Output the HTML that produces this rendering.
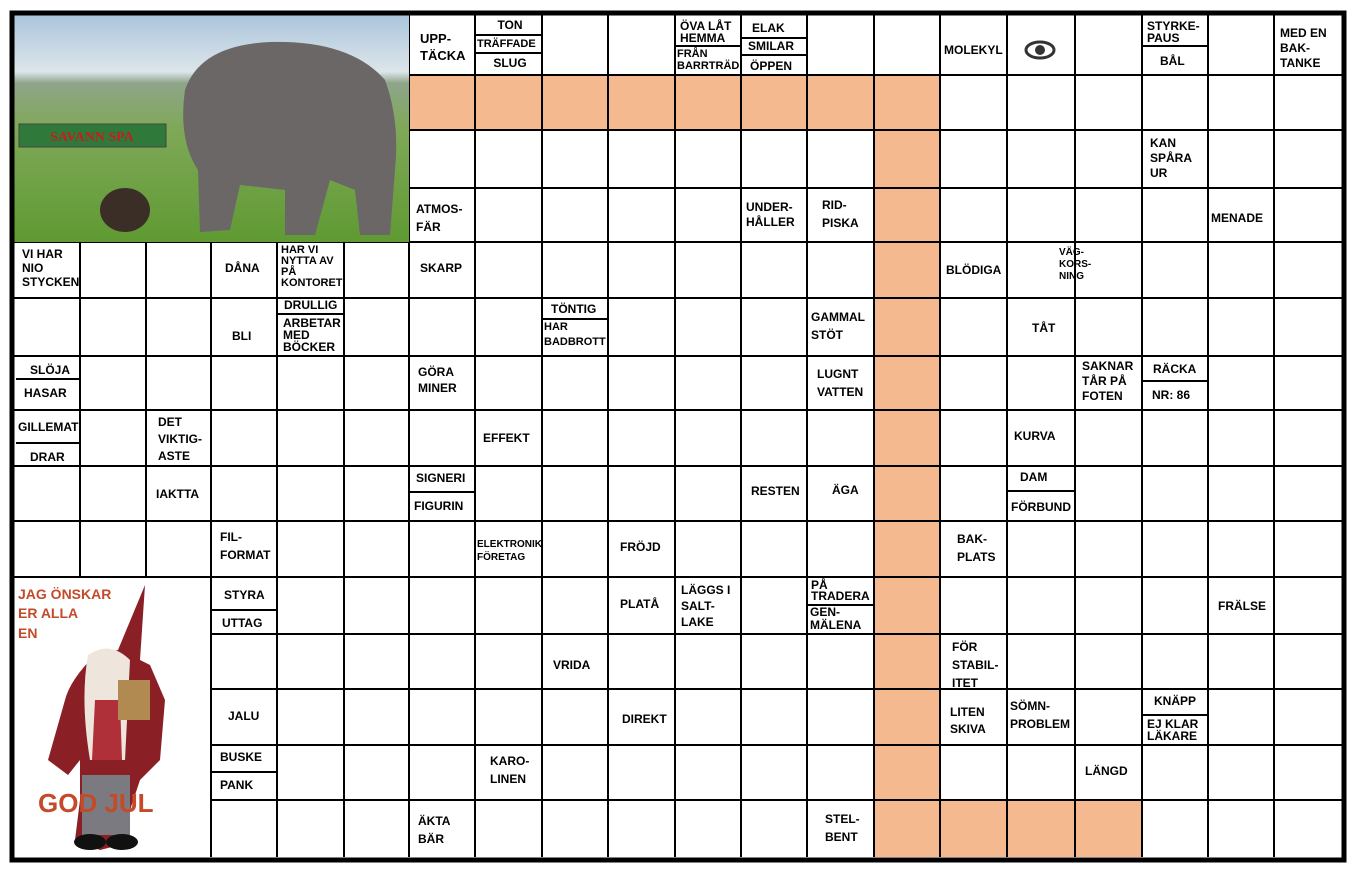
<!DOCTYPE html>
<html><head><meta charset="utf-8"><style>
body{margin:0;width:1366px;height:870px;background:#fff;position:relative;overflow:hidden;font-family:"Liberation Sans",sans-serif}
.c{position:absolute;font-size:12px;font-weight:bold;line-height:13px;color:#000;white-space:nowrap}
.s{position:absolute;height:2px;background:#000}
</style></head><body>
<svg width="1366" height="870" style="position:absolute;left:0;top:0">
<g fill="#f5b990">
<rect x="409" y="75" width="531" height="55"/>
<rect x="874" y="75" width="66" height="782"/>
<rect x="940" y="800" width="202" height="57"/>
</g>
<g stroke="#000" stroke-width="2">
<line x1="14" y1="75" x2="1342" y2="75"/><line x1="14" y1="130" x2="1342" y2="130"/><line x1="14" y1="188" x2="1342" y2="188"/><line x1="14" y1="242" x2="1342" y2="242"/><line x1="14" y1="298" x2="1342" y2="298"/><line x1="14" y1="356" x2="1342" y2="356"/><line x1="14" y1="410" x2="1342" y2="410"/><line x1="14" y1="466" x2="1342" y2="466"/><line x1="14" y1="521" x2="1342" y2="521"/><line x1="14" y1="577" x2="1342" y2="577"/><line x1="14" y1="634" x2="1342" y2="634"/><line x1="14" y1="689" x2="1342" y2="689"/><line x1="14" y1="745" x2="1342" y2="745"/><line x1="14" y1="800" x2="1342" y2="800"/>
<line x1="80" y1="15" x2="80" y2="857"/><line x1="146" y1="15" x2="146" y2="857"/><line x1="211" y1="15" x2="211" y2="857"/><line x1="277" y1="15" x2="277" y2="857"/><line x1="344" y1="15" x2="344" y2="857"/><line x1="409" y1="15" x2="409" y2="857"/><line x1="475" y1="15" x2="475" y2="857"/><line x1="542" y1="15" x2="542" y2="857"/><line x1="608" y1="15" x2="608" y2="857"/><line x1="675" y1="15" x2="675" y2="857"/><line x1="741" y1="15" x2="741" y2="857"/><line x1="807" y1="15" x2="807" y2="857"/><line x1="874" y1="15" x2="874" y2="857"/><line x1="940" y1="15" x2="940" y2="857"/><line x1="1007" y1="15" x2="1007" y2="857"/><line x1="1075" y1="15" x2="1075" y2="857"/><line x1="1142" y1="15" x2="1142" y2="857"/><line x1="1208" y1="15" x2="1208" y2="857"/><line x1="1274" y1="15" x2="1274" y2="857"/>
</g>
<defs><linearGradient id="g1" x1="0" y1="0" x2="0" y2="1"><stop offset="0" stop-color="#aac4dc"/><stop offset="0.25" stop-color="#dde6ea"/><stop offset="0.3" stop-color="#8fa58a"/><stop offset="0.5" stop-color="#7fa858"/><stop offset="1" stop-color="#5f9a32"/></linearGradient></defs>
<rect x="14" y="15" width="395" height="227" fill="url(#g1)"/>
<path d="M185 90 Q200 45 270 42 Q350 40 385 80 Q400 120 395 170 L390 235 L360 235 L355 190 L330 180 L315 235 L285 235 L285 190 L240 185 L230 230 L200 232 L198 170 Q178 140 185 90Z" fill="#6b6766"/>
<ellipse cx="125" cy="210" rx="25" ry="22" fill="#3a2e26"/>
<rect x="19" y="124" width="147" height="23" fill="#2f7a3a" stroke="#444"/>
<text x="92" y="141" font-family="Liberation Serif" font-weight="bold" font-size="14" fill="#c02020" text-anchor="middle">SAVANN SPA</text>
<rect x="14" y="578" width="196" height="279" fill="#fff"/>
<path d="M145 585 L118 650 L95 655 Q70 680 65 700 L48 760 L68 775 L80 760 L80 800 L75 840 L100 850 L120 845 L130 810 L140 780 L160 760 L165 700 L150 665 L140 660Z" fill="#8a1f26"/>
<path d="M88 655 Q110 640 130 660 L125 760 L90 760 Q80 700 88 655Z" fill="#eee6dc"/>
<path d="M95 700 L120 700 L122 760 L92 760Z" fill="#b0303a"/>
<rect x="118" y="680" width="32" height="40" fill="#b08a50"/>
<rect x="82" y="775" width="48" height="60" fill="#7a7a80"/>
<ellipse cx="90" cy="842" rx="16" ry="8" fill="#111"/><ellipse cx="122" cy="842" rx="16" ry="8" fill="#111"/>
<text x="18" y="599" font-size="14" font-weight="bold" fill="#c44a2a">JAG ÖNSKAR</text>
<text x="18" y="618" font-size="14" font-weight="bold" fill="#c44a2a">ER ALLA</text>
<text x="18" y="638" font-size="14" font-weight="bold" fill="#c44a2a">EN</text>
<text x="38" y="812" font-size="26" font-weight="bold" fill="#c44a2a">GOD JUL</text>
<ellipse cx="1040" cy="50" rx="14" ry="8" fill="none" stroke="#333" stroke-width="3"/><circle cx="1040" cy="50" r="5" fill="#333"/>
<rect x="12" y="13" width="1332" height="847" fill="none" stroke="#000" stroke-width="5"/>
</svg>
<div class="c" style="left:420px;top:30px;font-size:13px;line-height:17px">UPP-<br>TÄCKA</div>
<div class="c" style="left:478px;top:19px;width:64px;text-align:center">TON</div><div class="s" style="left:475px;top:34px;width:67px"></div>
<div class="c" style="left:477px;top:38px;font-size:11px">TRÄFFADE</div><div class="s" style="left:475px;top:52px;width:67px"></div>
<div class="c" style="left:478px;top:57px;width:64px;text-align:center">SLUG</div>
<div class="c" style="left:680px;top:20px;line-height:12px">ÖVA LÅT<br>HEMMA</div><div class="s" style="left:675px;top:45px;width:66px"></div>
<div class="c" style="left:677px;top:48px;line-height:12px;font-size:11px">FRÅN<br>BARRTRÄD</div>
<div class="c" style="left:752px;top:22px">ELAK</div><div class="s" style="left:741px;top:37px;width:66px"></div>
<div class="c" style="left:748px;top:40px">SMILAR</div><div class="s" style="left:741px;top:54px;width:66px"></div>
<div class="c" style="left:750px;top:60px">ÖPPEN</div>
<div class="c" style="left:944px;top:44px">MOLEKYL</div>
<div class="c" style="left:1147px;top:20px;line-height:12px">STYRKE-<br>PAUS</div><div class="s" style="left:1142px;top:45px;width:66px"></div>
<div class="c" style="left:1160px;top:55px">BÅL</div>
<div class="c" style="left:1280px;top:26px;line-height:15px">MED EN<br>BAK-<br>TANKE</div>
<div class="c" style="left:1150px;top:136px;line-height:15px">KAN<br>SPÅRA<br>UR</div>
<div class="c" style="left:416px;top:200px;line-height:18px">ATMOS-<br>FÄR</div>
<div class="c" style="left:746px;top:200px;line-height:15px">UNDER-<br>HÅLLER</div>
<div class="c" style="left:822px;top:196px;line-height:18px">RID-<br>PISKA</div>
<div class="c" style="left:1211px;top:212px">MENADE</div>
<div class="c" style="left:22px;top:247px;line-height:14px">VI HAR<br>NIO<br>STYCKEN</div>
<div class="c" style="left:225px;top:262px">DÅNA</div>
<div class="c" style="left:281px;top:245px;line-height:11px;font-size:11px">HAR VI<br>NYTTA AV<br>PÅ<br>KONTORET</div>
<div class="c" style="left:420px;top:262px">SKARP</div>
<div class="c" style="left:946px;top:264px">BLÖDIGA</div>
<div class="c" style="left:1059px;top:247px;line-height:12px;font-size:10px">VÄG-<br>KORS-<br>NING</div>
<div class="c" style="left:284px;top:299px">DRULLIG</div><div class="s" style="left:277px;top:313px;width:67px"></div>
<div class="c" style="left:283px;top:317px;line-height:12px">ARBETAR<br>MED<br>BÖCKER</div>
<div class="c" style="left:551px;top:303px">TÖNTIG</div><div class="s" style="left:542px;top:318px;width:66px"></div>
<div class="c" style="left:544px;top:320px;line-height:15px;font-size:11px">HAR<br>BADBROTT</div>
<div class="c" style="left:811px;top:308px;line-height:18px">GAMMAL<br>STÖT</div>
<div class="c" style="left:232px;top:330px">BLI</div>
<div class="c" style="left:1032px;top:322px">TÅT</div>
<div class="c" style="left:30px;top:364px">SLÖJA</div><div class="s" style="left:16px;top:378px;width:64px"></div>
<div class="c" style="left:24px;top:387px">HASAR</div>
<div class="c" style="left:418px;top:364px;line-height:16px">GÖRA<br>MINER</div>
<div class="c" style="left:817px;top:365px;line-height:18px">LUGNT<br>VATTEN</div>
<div class="c" style="left:1082px;top:359px;line-height:15px">SAKNAR<br>TÅR PÅ<br>FOTEN</div>
<div class="c" style="left:1153px;top:363px">RÄCKA</div><div class="s" style="left:1142px;top:380px;width:66px"></div>
<div class="c" style="left:1152px;top:389px">NR: 86</div>
<div class="c" style="left:18px;top:421px">GILLEMAT</div><div class="s" style="left:16px;top:442px;width:64px"></div>
<div class="c" style="left:30px;top:451px">DRAR</div>
<div class="c" style="left:158px;top:414px;line-height:17px">DET<br>VIKTIG-<br>ASTE</div>
<div class="c" style="left:483px;top:432px">EFFEKT</div>
<div class="c" style="left:1014px;top:430px">KURVA</div>
<div class="c" style="left:156px;top:488px">IAKTTA</div>
<div class="c" style="left:416px;top:472px">SIGNERI</div><div class="s" style="left:409px;top:491px;width:66px"></div>
<div class="c" style="left:414px;top:500px">FIGURIN</div>
<div class="c" style="left:751px;top:485px">RESTEN</div>
<div class="c" style="left:832px;top:484px">ÄGA</div>
<div class="c" style="left:1020px;top:471px">DAM</div><div class="s" style="left:1007px;top:490px;width:68px"></div>
<div class="c" style="left:1011px;top:501px">FÖRBUND</div>
<div class="c" style="left:220px;top:528px;line-height:18px">FIL-<br>FORMAT</div>
<div class="c" style="left:477px;top:538px;font-size:10px;line-height:13px">ELEKTRONIK<br>FÖRETAG</div>
<div class="c" style="left:620px;top:541px">FRÖJD</div>
<div class="c" style="left:957px;top:530px;line-height:18px">BAK-<br>PLATS</div>
<div class="c" style="left:224px;top:589px">STYRA</div><div class="s" style="left:211px;top:609px;width:66px"></div>
<div class="c" style="left:222px;top:617px">UTTAG</div>
<div class="c" style="left:620px;top:598px">PLATÅ</div>
<div class="c" style="left:681px;top:582px;line-height:16px">LÄGGS I<br>SALT-<br>LAKE</div>
<div class="c" style="left:811px;top:580px;line-height:11px">PÅ<br>TRADERA</div><div class="s" style="left:807px;top:604px;width:67px"></div>
<div class="c" style="left:810px;top:606px;line-height:13px">GEN-<br>MÄLENA</div>
<div class="c" style="left:1218px;top:600px">FRÄLSE</div>
<div class="c" style="left:553px;top:659px">VRIDA</div>
<div class="c" style="left:952px;top:638px;line-height:18px">FÖR<br>STABIL-<br>ITET</div>
<div class="c" style="left:228px;top:710px">JALU</div>
<div class="c" style="left:622px;top:713px">DIREKT</div>
<div class="c" style="left:950px;top:704px;line-height:17px">LITEN<br>SKIVA</div>
<div class="c" style="left:1010px;top:697px;line-height:18px">SÖMN-<br>PROBLEM</div>
<div class="c" style="left:1154px;top:695px">KNÄPP</div><div class="s" style="left:1142px;top:714px;width:66px"></div>
<div class="c" style="left:1147px;top:718px;line-height:12px">EJ KLAR<br>LÄKARE</div>
<div class="c" style="left:220px;top:751px">BUSKE</div><div class="s" style="left:211px;top:771px;width:66px"></div>
<div class="c" style="left:220px;top:779px">PANK</div>
<div class="c" style="left:490px;top:752px;line-height:18px">KARO-<br>LINEN</div>
<div class="c" style="left:1085px;top:765px">LÄNGD</div>
<div class="c" style="left:418px;top:812px;line-height:18px">ÄKTA<br>BÄR</div>
<div class="c" style="left:825px;top:810px;line-height:18px">STEL-<br>BENT</div>
</body></html>
